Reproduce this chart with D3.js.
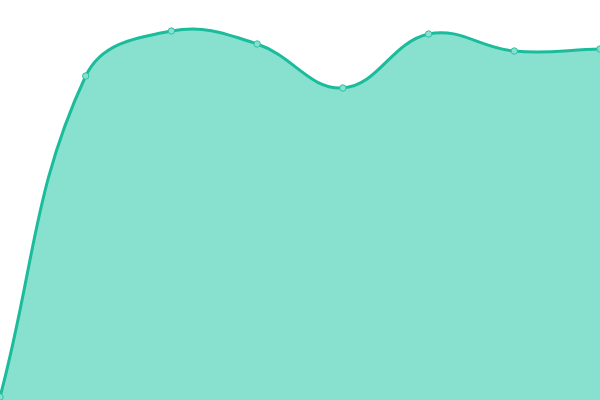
<!DOCTYPE html>
<html>
<head>
<meta charset="utf-8">
<script src="https://cdn.jsdelivr.net/npm/d3@7"></script>
<style>
    html, body { margin: 0; padding: 0; background: #fff; }
    svg { display: block; }
</style>
</head>
<body>
<div id="chart"></div>
<script>
// Chart data
const categories = ['A', 'B', 'C', 'D', 'E', 'F', 'G', 'H'];
const values = [3, 324, 369, 356, 312, 366, 349, 351];

const width = 600;
const height = 400;
const tension = 0.4;

const svg = d3.select('#chart')
    .append('svg')
    .attr('width', width)
    .attr('height', height);

const x = d3.scalePoint()
    .domain(categories)
    .range([0, width]);

const y = d3.scaleLinear()
    .domain([0, 400])
    .range([height, 0]);

const pts = categories.map((c, i) => ({ x: x(c), y: y(values[i]) }));

// Spline control points (distance-weighted, endpoints use the point itself)
function controlPoints(points, t) {
    return points.map((p, i) => {
        const prev = points[i - 1] || p;
        const next = points[i + 1] || p;
        const d01 = Math.hypot(p.x - prev.x, p.y - prev.y);
        const d12 = Math.hypot(next.x - p.x, next.y - p.y);
        let s01 = d01 / (d01 + d12);
        let s12 = d12 / (d01 + d12);
        if (isNaN(s01)) s01 = 0;
        if (isNaN(s12)) s12 = 0;
        const fa = t * s01;
        const fb = t * s12;
        return {
            inX: p.x - fa * (next.x - prev.x),
            inY: p.y - fa * (next.y - prev.y),
            outX: p.x + fb * (next.x - prev.x),
            outY: p.y + fb * (next.y - prev.y)
        };
    });
}

function splinePath(path, points) {
    const cps = controlPoints(points, tension);
    path.moveTo(points[0].x, points[0].y);
    for (let i = 1; i < points.length; i++) {
        path.bezierCurveTo(cps[i - 1].outX, cps[i - 1].outY, cps[i].inX, cps[i].inY, points[i].x, points[i].y);
    }
    return path;
}

// Filled area
const areaPath = splinePath(d3.path(), pts);
areaPath.lineTo(pts[pts.length - 1].x, height);
areaPath.lineTo(pts[0].x, height);
areaPath.closePath();

svg.append('path')
    .attr('d', areaPath.toString())
    .attr('fill', '#88e0cf');

// Line
svg.append('path')
    .attr('d', splinePath(d3.path(), pts).toString())
    .attr('fill', 'none')
    .attr('stroke', '#1abc9c')
    .attr('stroke-width', 3);

// Points
svg.selectAll('.dot')
    .data(pts)
    .enter()
    .append('circle')
    .attr('class', 'dot')
    .attr('cx', d => d.x)
    .attr('cy', d => d.y)
    .attr('r', 3.2)
    .attr('fill', '#88e0cf')
    .attr('stroke', '#2cc3a5')
    .attr('stroke-width', 1);
</script>
</body>
</html>
